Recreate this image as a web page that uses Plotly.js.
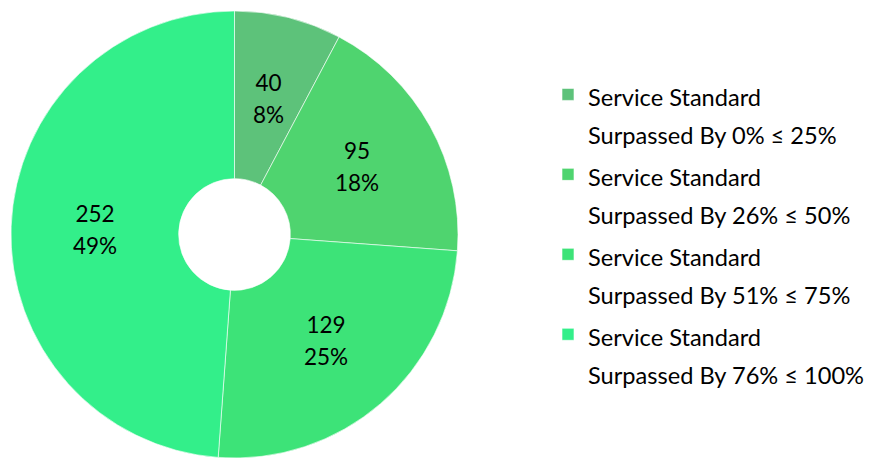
<!DOCTYPE html>
<html>
<head>
<meta charset="utf-8">
<script src="https://cdn.plot.ly/plotly-3.0.1.min.js"></script>
<style>html,body{margin:0;padding:0;background:#fff;}#chart{width:869px;height:458px;}</style>
</head>
<body>
<div id="chart"></div>
<script>
const categories = [
  "Service Standard<br>Surpassed By 0% ≤ 25%",
  "Service Standard<br>Surpassed By 26% ≤ 50%",
  "Service Standard<br>Surpassed By 51% ≤ 75%",
  "Service Standard<br>Surpassed By 76% ≤ 100%"
];
const values = [40, 95, 129, 252];
const colors = ["#5DC27A", "#4FD46F", "#3DE378", "#33EF8A"];

const W = 869, H = 458;
const M = {l: 0, r: 0, t: 11, b: 0};
const domX = [11 / W, 458 / W];
const HOLE = 0.25;
const FONT = "Lato, 'Open Sans', sans-serif";

// Data labels placed at mid-ring of each slice, angles derived from the values
const total = values.reduce((a, b) => a + b, 0);
const plotW = W - M.l - M.r, plotH = H - M.t - M.b;
const cxPx = M.l + plotW * (domX[0] + domX[1]) / 2;
const cyPx = M.t + plotH / 2;
const R = Math.min(plotW * (domX[1] - domX[0]), plotH) / 2;
const rLab = R * (1 + HOLE) / 2;
let cum = 0;
const annotations = values.map(v => {
  const mid = (cum + v / 2) / total * 2 * Math.PI;
  cum += v;
  const px = cxPx + rLab * Math.sin(mid);
  const py = cyPx - rLab * Math.cos(mid);
  return {
    xref: "paper", yref: "paper",
    x: (px - M.l) / plotW, y: 1 - (py - M.t) / plotH,
    xanchor: "center", yanchor: "middle",
    text: "<span style=\"font-size:22.5px\">" + v + "</span><br><span style=\"font-size:22.5px\">" +
          Math.round(v / total * 100) + "%</span>",
    showarrow: false,
    font: {family: FONT, size: 24.6, color: "#000000"}
  };
});

const trace = {
  type: "pie",
  labels: categories.map(l => l.split("<br>").map(s => "<span style=\"font-size:23.6px\">" + s + "</span>").join("<br>")),
  values: values,
  sort: false,
  direction: "clockwise",
  rotation: 0,
  hole: HOLE,
  marker: {colors: colors, line: {color: "#ffffff", width: 0.6}},
  textinfo: "none",
  domain: {x: domX, y: [0, 1]},
  hoverinfo: "none"
};
const layout = {
  width: W, height: H,
  margin: M,
  paper_bgcolor: "#ffffff",
  showlegend: true,
  annotations: annotations,
  legend: {
    x: 548 / W, xanchor: "left",
    y: 0.871, yanchor: "top",
    valign: "top",
    font: {family: FONT, size: 29.6, color: "#000000"},
    bgcolor: "rgba(0,0,0,0)"
  }
};
Plotly.newPlot("chart", [trace], layout, {displayModeBar: false, staticPlot: true});
</script>
</body>
</html>
